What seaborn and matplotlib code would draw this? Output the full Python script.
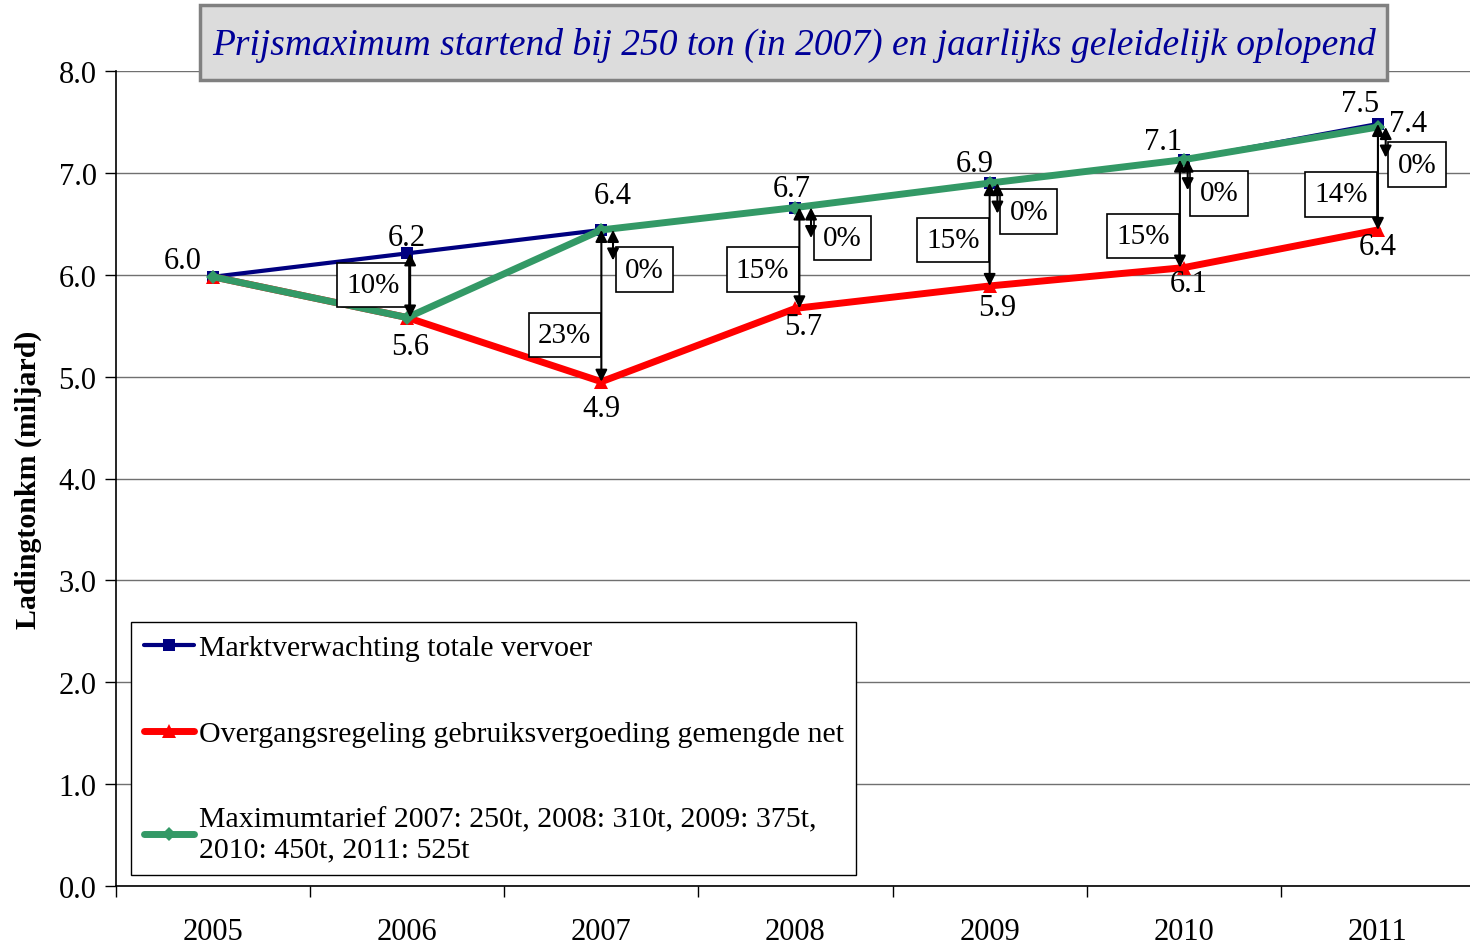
import matplotlib
matplotlib.use("Agg")
import matplotlib.pyplot as plt
import matplotlib.patches as mpatches
import seaborn as sns
import pandas as pd
import numpy as np

years = ["2005", "2006", "2007", "2008", "2009", "2010", "2011"]
markt = [5.98, 6.21, 6.44, 6.66, 6.90, 7.13, 7.48]
overgang = [5.98, 5.58, 4.95, 5.67, 5.89, 6.07, 6.44]
maximum = [5.98, 5.58, 6.44, 6.66, 6.90, 7.13, 7.45]
markt_labels = ["6.0", "6.2", "6.4", "6.7", "6.9", "7.1", "7.5"]
overgang_labels = ["", "5.6", "4.9", "5.7", "5.9", "6.1", "6.4"]
maximum_label_2011 = "7.4"
gap_pct = ["", "10%", "23%", "15%", "15%", "15%", "14%"]
max_pct = ["", "", "0%", "0%", "0%", "0%", "0%"]

series_names = [
    "Marktverwachting totale vervoer",
    "Overgangsregeling gebruiksvergoeding gemengde net",
    "Maximumtarief 2007: 250t, 2008: 310t, 2009: 375t,\n2010: 450t, 2011: 525t",
]
title = "Prijsmaximum startend bij 250 ton (in 2007) en jaarlijks geleidelijk oplopend"
ylabel = "Ladingtonkm (miljard)"

sns.set_style("white")
plt.rcParams["font.family"] = ["Liberation Serif", "DejaVu Serif"]
for k in ["text.color", "axes.labelcolor", "xtick.color", "ytick.color"]:
    plt.rcParams[k] = "black"

fig = plt.figure(figsize=(14.7, 9.45), dpi=100)
ax = fig.add_axes([116 / 1470, 58 / 945, 1359 / 1470, 815 / 945])

pos = np.arange(len(years))
df = pd.DataFrame({"pos": pos, "markt": markt, "overgang": overgang, "maximum": maximum})

sns.lineplot(data=df, x="pos", y="markt", ax=ax, color="#000080", lw=3,
             marker="s", markersize=8, markeredgewidth=0, label=series_names[0], zorder=3)
sns.lineplot(data=df, x="pos", y="overgang", ax=ax, color="#ff0000", lw=5,
             marker="^", markersize=10, markeredgewidth=0, label=series_names[1], zorder=4)
sns.lineplot(data=df, x="pos", y="maximum", ax=ax, color="#339966", lw=5,
             marker="D", markersize=7, markeredgewidth=0, label=series_names[2], zorder=5)

ax.set_xlim(-0.5, 6.5)
ax.set_ylim(0, 8)
ax.set_yticks(np.arange(0, 9, 1))
ax.set_yticklabels([f"{v:.1f}" for v in np.arange(0, 9, 1)], fontsize=22)
ax.set_xticks(np.arange(-0.5, 7, 1))
ax.set_xticklabels([])
ax.set_xticks(pos, minor=True)
ax.set_xticklabels(years, minor=True, fontsize=22)
ax.tick_params(axis="x", which="major", direction="out", length=8, width=1, color="black", bottom=True)
ax.tick_params(axis="x", which="minor", length=0, pad=22)
ax.tick_params(axis="y", direction="out", length=8, width=1, color="black", left=True, pad=6)
ax.yaxis.grid(True, color="#707070", lw=1)
ax.xaxis.grid(False)
for s in ["top", "right"]:
    ax.spines[s].set_visible(False)
for s in ["left", "bottom"]:
    ax.spines[s].set_color("black")
    ax.spines[s].set_linewidth(1.2)
ax.set_xlabel("")
ax.set_ylabel(ylabel, fontsize=21.5, fontweight="bold", labelpad=12)

# data labels
blue_off = [(-30, 16), (0, 16), (11, 34), (-4, 19), (-15, 20), (-21, 18), (-18, 20)]
red_off = [(0, 0), (3, -29), (0, -27), (8, -18), (8, -22), (5, -16), (0, -17)]
for i in range(len(years)):
    ax.annotate(markt_labels[i], (pos[i], markt[i]), xytext=blue_off[i], textcoords="offset pixels",
                ha="center", va="center", fontsize=22, zorder=8)
    if overgang_labels[i]:
        ax.annotate(overgang_labels[i], (pos[i], overgang[i]), xytext=red_off[i], textcoords="offset pixels",
                    ha="center", va="center", fontsize=22, zorder=8)
ax.annotate(maximum_label_2011, (pos[6], maximum[6]), xytext=(30, 4), textcoords="offset pixels",
            ha="center", va="center", fontsize=22, zorder=8)

# gap arrows and percentage boxes
big_dx = [0, 0.015, 0.0, 0.02, 0.0, -0.02, 0.0]
big_box_y = [0, 5.90, 5.41, 6.05, 6.34, 6.38, 6.79]
small_dx = [0, 0, 0.06, 0.08, 0.04, 0.02, 0.04]
small_box_y = [0, 0, 6.05, 6.36, 6.62, 6.80, 7.08]
box_kw = dict(boxstyle="square,pad=0.32", fc="white", ec="black", lw=1.2)
arrow_kw = dict(arrowstyle="<|-|>,head_length=0.7,head_width=0.35", color="black", lw=1.5,
                shrinkA=0, shrinkB=0)
for i in range(1, len(years)):
    x = pos[i] + big_dx[i]
    ax.annotate("", xy=(x, overgang[i]), xytext=(x, markt[i]), arrowprops=arrow_kw, zorder=9)
    ax.annotate(gap_pct[i], (x, big_box_y[i]), xytext=(-10, 0), textcoords="offset pixels",
                ha="right", va="center", fontsize=21, bbox=box_kw, zorder=7)
    if max_pct[i]:
        xs = pos[i] + small_dx[i]
        ax.annotate("", xy=(xs, maximum[i] - 0.3), xytext=(xs, maximum[i]), arrowprops=arrow_kw, zorder=9)
        ax.annotate(max_pct[i], (xs, small_box_y[i]), xytext=(12, 0), textcoords="offset pixels",
                    ha="left", va="center", fontsize=21, bbox=box_kw, zorder=7)

# legend
leg = ax.legend(loc="upper left", bbox_to_anchor=(131 / 1470, 1 - 623 / 945),
                bbox_transform=fig.transFigure, fontsize=21.5, frameon=True, fancybox=False,
                framealpha=1, edgecolor="black", handlelength=1.7, handletextpad=0.15,
                labelspacing=1.97, borderpad=0.42, borderaxespad=0)
leg.get_frame().set_linewidth(1)

# title box
fig.patches.append(mpatches.Rectangle((200 / 1470, 1 - 81 / 945), 1187 / 1470, 75 / 945,
                                      transform=fig.transFigure, fc="#dcdcdc", ec="#808080",
                                      lw=2.5, zorder=10))
fig.text(794 / 1470, 1 - 45 / 945, title, ha="center", va="center", fontsize=27,
         style="italic", color="#000099", zorder=11)

fig.savefig("out.png", dpi=100)
